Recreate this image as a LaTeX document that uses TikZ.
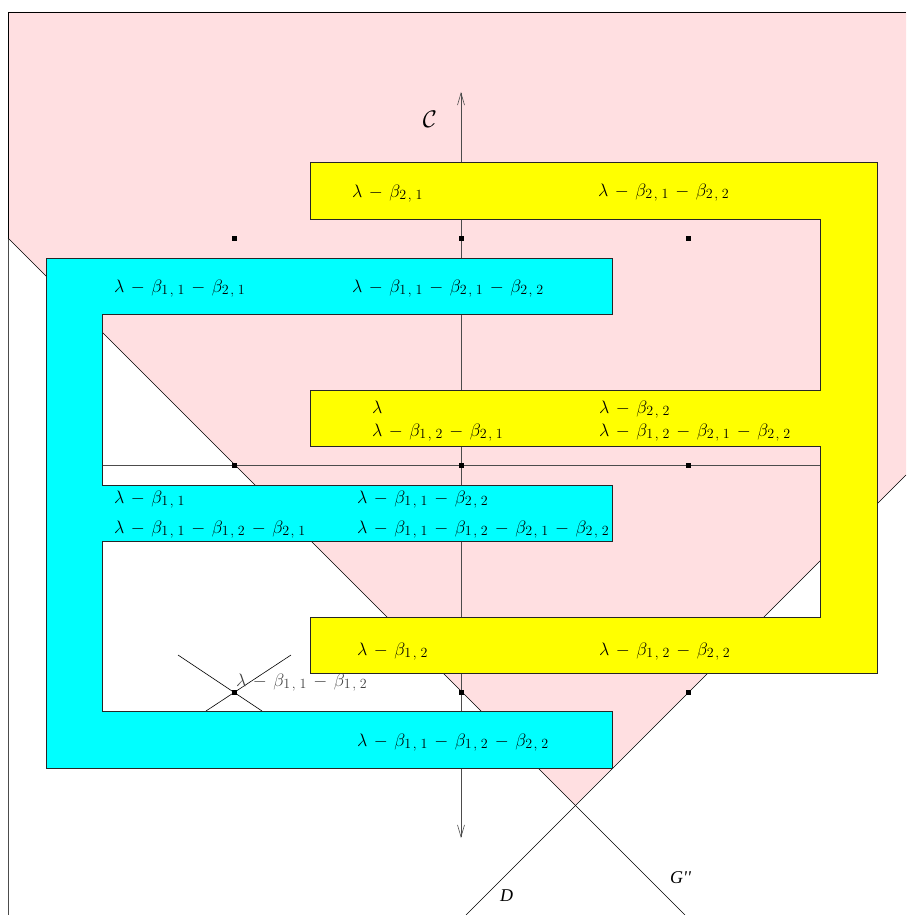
\RequirePackage{fix-cm}
\documentclass[tikz,border=0pt]{standalone}
\usepackage{fontspec}
\newfontfamily\tmsfont{Liberation Serif}
\usetikzlibrary{arrows.meta}
\definecolor{regionpink}{RGB}{255,223,225}
\definecolor{boxcyan}{RGB}{0,255,255}
\definecolor{boxyellow}{RGB}{255,255,0}
% larger indices for the weight labels
\DeclareMathSizes{18}{18}{14}{10}
% weight labels: wide binary spacing and spaced double indices
\newcommand\wt[1]{$\medmuskip=6.5mu #1$}
\newcommand\bt[2]{\beta_{#1\mkern2mu,\mkern5mu#2}}
\begin{document}
\begin{tikzpicture}[x=1pt,y=-1pt,
  every node/.style={inner sep=0pt},
  lab/.style={anchor=base west,font=\fontsize{18}{21}\selectfont},
  graylab/.style={lab,text=black!75},
  sidelab/.style={anchor=base west,font=\tmsfont\itshape\fontsize{18}{21}\selectfont},
  dotsq/.style={fill=black,rectangle,minimum size=5pt},
  wall/.style={draw=black,line width=0.6pt},
  boxline/.style={draw=black!85,line width=0.7pt},
  axisline/.style={draw=black!70,line width=0.6pt},
  tip/.tip={Straight Barb[length=12pt,width=7pt]},
]
\useasboundingbox (0,0) rectangle (906,915);
\begin{scope}
\clip (0,0) rectangle (906,915);
% shaded region bounded by the two walls
\fill[regionpink] (8,12) -- (906,12) -- (906,475) -- (575,805) -- (8,238) -- cycle;

% frame and walls
\coordinate (fTL) at (8,12);
\coordinate (fTR) at (906,12);
\coordinate (fBL) at (8,915);
\coordinate (gA) at (8,238);
\coordinate (gB) at (685,915);
\coordinate (dA) at (906,475);
\coordinate (dB) at (466,915);
\draw[draw=black!70,line width=0.5pt] (gA) -- (fBL);
\draw[wall,line width=0.8pt] (gA) -- (fTL) -- (fTR);
\draw[wall] (gA) -- (gB);
\draw[wall] (dA) -- (dB);

% axes
\coordinate (vTop) at (461,92);
\coordinate (vBot) at (461,838);
\coordinate (hL) at (46,465);
\coordinate (hR) at (877,465);
\draw[axisline,tip-tip] (vBot) -- (vTop);
\draw[axisline] (hL) -- (hR);

% crossing at the lower left lattice point
\coordinate (xa1) at (178,655);
\coordinate (xa2) at (262,711);
\coordinate (xb1) at (291,655);
\coordinate (xb2) at (206,711);
\draw[wall] (xa1) -- (xa2);
\draw[wall] (xb1) -- (xb2);

% lattice points
\foreach \i/\x in {1/234,2/461,3/688}
  \foreach \j/\y in {1/238,2/465,3/692}
    \node[dotsq] (p\i\j) at (\x,\y) {};

% yellow comb (opening to the left)
\filldraw[boxline,fill=boxyellow]
  (310,162) -- (877,162) -- (877,673) -- (310,673) -- (310,617) -- (820,617)
  -- (820,446) -- (310,446) -- (310,390) -- (820,390) -- (820,219) -- (310,219) -- cycle;
% cyan comb (opening to the right)
\filldraw[boxline,fill=boxcyan]
  (46,258) -- (612,258) -- (612,314) -- (102,314) -- (102,485) -- (612,485)
  -- (612,541) -- (102,541) -- (102,711) -- (612,711) -- (612,768) -- (46,768) -- cycle;
\end{scope}

% labels on the yellow comb
\node[lab] (y1a) at (352,197) {\wt{\lambda-\bt{2}{1}}};
\node[lab] (y1b) at (598,196) {\wt{\lambda-\bt{2}{1}-\bt{2}{2}}};
\node[lab] (y2a) at (372,413) {\wt{\lambda}};
\node[lab] (y2b) at (372,436) {\wt{\lambda-\bt{1}{2}-\bt{2}{1}}};
\node[lab] (y2c) at (599,413) {\wt{\lambda-\bt{2}{2}}};
\node[lab] (y2d) at (599,436) {\wt{\lambda-\bt{1}{2}-\bt{2}{1}-\bt{2}{2}}};
\node[lab] (y3a) at (357,655) {\wt{\lambda-\bt{1}{2}}};
\node[lab] (y3b) at (599,655) {\wt{\lambda-\bt{1}{2}-\bt{2}{2}}};

% labels on the cyan comb
\node[lab] (c1a) at (114,292) {\wt{\lambda-\bt{1}{1}-\bt{2}{1}}};
\node[lab] (c1b) at (352,292) {\wt{\lambda-\bt{1}{1}-\bt{2}{1}-\bt{2}{2}}};
\node[lab] (c2a) at (114,503) {\wt{\lambda-\bt{1}{1}}};
\node[lab] (c2b) at (114,533) {\wt{\lambda-\bt{1}{1}-\bt{1}{2}-\bt{2}{1}}};
\node[lab] (c2c) at (357,503) {\wt{\lambda-\bt{1}{1}-\bt{2}{2}}};
\node[lab] (c2d) at (357,533) {\wt{\lambda-\bt{1}{1}-\bt{1}{2}-\bt{2}{1}-\bt{2}{2}}};
\node[lab] (c3a) at (357,746) {\wt{\lambda-\bt{1}{1}-\bt{1}{2}-\bt{2}{2}}};

% label at the crossing
\node[graylab] (xl) at (236,686) {\wt{\lambda-\bt{1}{1}-\bt{1}{2}}};

% contour and wall names
\node[font=\fontsize{24}{28}\selectfont] (cc) at (430,119) {$\mathcal{C}$};
\node[sidelab] (dl) at (500,901) {D};
\node[sidelab] (gl) at (670,883) {G\textquotesingle\textquotesingle};
\end{tikzpicture}
\end{document}
